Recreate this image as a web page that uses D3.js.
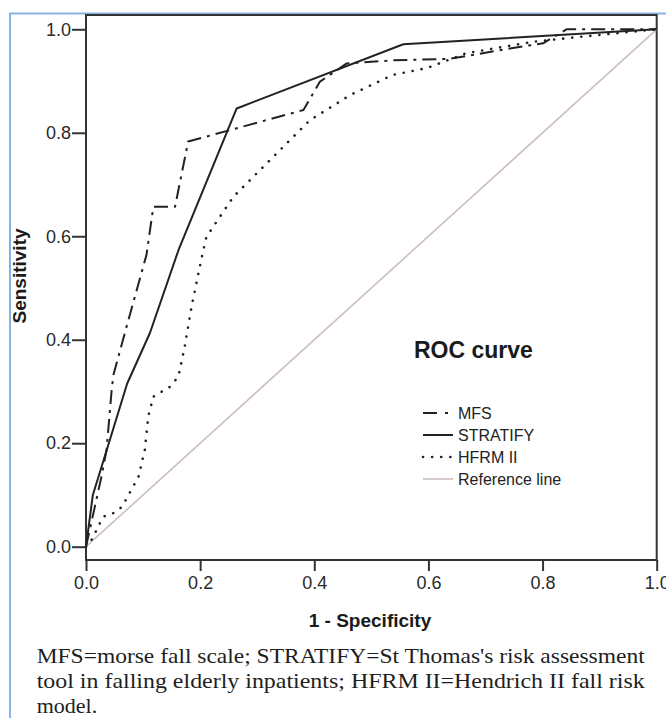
<!DOCTYPE html>
<html>
<head>
<meta charset="utf-8">
<script src="https://cdn.jsdelivr.net/npm/d3@7"></script>
<style>
  html, body { margin: 0; padding: 0; background: #fff; }
  svg { display: block; }
  .tick text { font-family: "Liberation Sans", Arial, sans-serif; font-size: 18px; fill: #2a2a2a; }
  .tick line { stroke: #333; stroke-width: 2; }
</style>
</head>
<body>
<svg id="chart" width="666" height="718"></svg>
<script>
// ROC curve: 1 - specificity (x) vs sensitivity (y)
const mfsX = [0, 0.013, 0.027, 0.036, 0.045, 0.048, 0.071, 0.106, 0.118, 0.156, 0.179, 0.381, 0.41, 0.457, 0.538, 0.638, 0.743, 0.801, 0.842, 1];
const mfsY = [0, 0.065, 0.135, 0.187, 0.303, 0.332, 0.425, 0.564, 0.657, 0.657, 0.783, 0.844, 0.899, 0.934, 0.94, 0.943, 0.963, 0.973, 1, 1];

const stratifyX = [0, 0.012, 0.04, 0.072, 0.112, 0.162, 0.264, 0.556, 1];
const stratifyY = [0, 0.1, 0.2, 0.315, 0.413, 0.573, 0.847, 0.971, 1];

const hfrmX = [0, 0.007, 0.03, 0.048, 0.063, 0.092, 0.103, 0.109, 0.118, 0.147, 0.162, 0.173, 0.185, 0.203, 0.211, 0.258, 0.305, 0.363, 0.392, 0.463, 0.538, 0.597, 0.667, 0.784, 0.871, 1];
const hfrmY = [0, 0.007, 0.058, 0.065, 0.077, 0.135, 0.187, 0.251, 0.29, 0.309, 0.329, 0.387, 0.464, 0.56, 0.599, 0.676, 0.728, 0.792, 0.824, 0.873, 0.912, 0.925, 0.954, 0.976, 0.986, 1];

const refX = [0, 1];
const refY = [0, 1];

const ticks = [0, 0.2, 0.4, 0.6, 0.8, 1.0];
const seriesNames = ['MFS', 'STRATIFY', 'HFRM II', 'Reference line'];
const captionLines = [
  "MFS=morse fall scale; STRATIFY=St Thomas's risk assessment",
  "tool in falling elderly inpatients; HFRM II=Hendrich II fall risk",
  "model."
];

const svg = d3.select('#chart');
const sans = '"Liberation Sans", Arial, sans-serif';

// Plot box
const boxL = 86, boxR = 656.7, boxT = 15, boxB = 560;
const x = d3.scaleLinear().domain([0, 1]).range([boxL, boxR]);
const y = d3.scaleLinear().domain([0, 1]).range([546.7, 29.3]);

// Light blue panel border (top + left)
svg.append('path')
  .attr('d', 'M10,718V13.5H666')
  .attr('fill', 'none')
  .attr('stroke', '#86b3e3')
  .attr('stroke-width', 2);

svg.append('rect')
  .attr('x', boxL).attr('y', boxT)
  .attr('width', boxR - boxL).attr('height', boxB - boxT)
  .attr('fill', '#fff')
  .attr('stroke', '#333')
  .attr('stroke-width', 2);

// Axes
svg.append('g')
  .attr('transform', `translate(${boxL},0)`)
  .call(d3.axisLeft(y).tickValues(ticks).tickFormat(d3.format('.1f'))
    .tickSize(14).tickPadding(1))
  .call(g => g.select('.domain').remove());

svg.append('g')
  .attr('transform', `translate(0,${boxB})`)
  .call(d3.axisBottom(x).tickValues(ticks).tickFormat(d3.format('.1f'))
    .tickSize(11).tickPadding(5))
  .call(g => g.select('.domain').remove());

svg.append('text')
  .attr('x', 370).attr('y', 627)
  .attr('text-anchor', 'middle')
  .attr('font-family', sans).attr('font-size', 19).attr('font-weight', 'bold')
  .attr('fill', '#1a1a1a')
  .text('1 - Specificity');

svg.append('text')
  .attr('transform', 'translate(26,276) rotate(-90)')
  .attr('text-anchor', 'middle')
  .attr('font-family', sans).attr('font-size', 19).attr('font-weight', 'bold')
  .attr('fill', '#1a1a1a')
  .text('Sensitivity');

// Curves
const styles = [
  { xs: mfsX, ys: mfsY, color: '#222', width: 2, dash: '14,6,3,6' },
  { xs: stratifyX, ys: stratifyY, color: '#222', width: 2, dash: null },
  { xs: hfrmX, ys: hfrmY, color: '#222', width: 2.6, dash: '0.1,9' },
  { xs: refX, ys: refY, color: '#cdbebb', width: 1.6, dash: null }
];

const line = d3.line().x(d => x(d[0])).y(d => y(d[1]));

// reference line underneath
[3, 2, 0, 1].forEach(i => {
  const s = styles[i];
  svg.append('path')
    .datum(s.xs.map((v, k) => [v, s.ys[k]]))
    .attr('d', line)
    .attr('fill', 'none')
    .attr('stroke', s.color)
    .attr('stroke-width', s.width)
    .attr('stroke-dasharray', s.dash)
    .attr('stroke-linecap', i === 2 ? 'round' : 'butt')
    .attr('stroke-linejoin', 'round');
});

// Legend
svg.append('text')
  .attr('x', 414).attr('y', 358)
  .attr('font-family', sans).attr('font-size', 23).attr('font-weight', 'bold')
  .attr('fill', '#1a1a1a')
  .text('ROC curve');

const legendRows = [413, 435, 457, 479];
seriesNames.forEach((name, i) => {
  const s = styles[i];
  const ly = legendRows[i];
  svg.append('line')
    .attr('x1', 423).attr('x2', 453)
    .attr('y1', ly).attr('y2', ly)
    .attr('stroke', s.color)
    .attr('stroke-width', s.width)
    .attr('stroke-dasharray', i === 0 ? '14,8,3,20' : s.dash)
    .attr('stroke-linecap', i === 2 ? 'round' : 'butt');
  svg.append('text')
    .attr('x', 458).attr('y', ly + 6)
    .attr('font-family', sans).attr('font-size', 16)
    .attr('fill', '#222')
    .text(name);
});

// Caption
captionLines.forEach((t, i) => {
  const txt = svg.append('text')
    .attr('x', 36.7).attr('y', 663 + i * 25)
    .attr('font-family', '"Liberation Serif", "Times New Roman", serif')
    .attr('font-size', 22)
    .attr('fill', '#1e1e1e')
    .text(t);
  if (i < 2) txt.attr('textLength', 608).attr('lengthAdjust', 'spacingAndGlyphs');
});
</script>
</body>
</html>
